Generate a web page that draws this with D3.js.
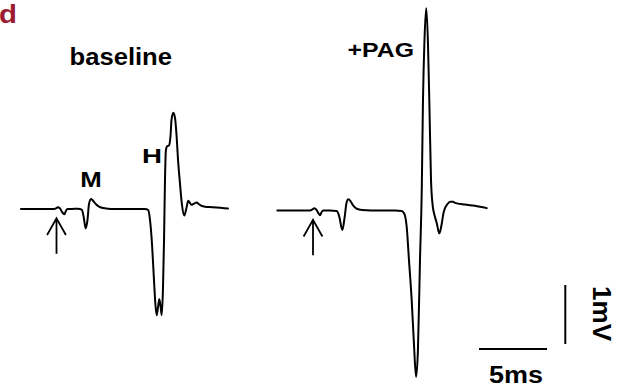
<!DOCTYPE html>
<html>
<head>
<meta charset="utf-8">
<script src="https://cdn.jsdelivr.net/npm/d3@7"></script>
<style>
  html, body { margin: 0; padding: 0; background: #fff; }
  svg { display: block; }
</style>
</head>
<body>
<svg id="fig" width="626" height="387"></svg>
<script>
// EMG recordings: time (ms from stimulus) and amplitude (mV from rest)
const baselineTime = [-2.65, -0.74, -0.22, -0.07, 0.05, 0.22, 0.37, 0.54, 0.66, 0.77, 1.10, 1.54, 1.82, 1.95, 2.11, 2.24, 2.35, 2.50, 2.65, 2.87, 3.09, 3.31, 3.60, 4.26, 6.10, 6.47, 6.71, 6.84, 6.99, 7.13, 7.24, 7.33, 7.43, 7.52, 7.61, 7.70, 7.79, 7.87, 7.94, 8.01, 8.09, 8.24, 8.35, 8.42, 8.55, 8.68, 8.79, 8.90, 9.04, 9.19, 9.36, 9.52, 9.65, 9.78, 9.90, 10.07, 10.27, 10.44, 10.66, 10.88, 11.40, 11.99, 12.57];
const baselineVolt = [0, 0, 0, 0.01, 0.03, 0.01, -0.05, -0.09, -0.03, 0, 0, 0.005, -0.01, -0.12, -0.33, -0.19, 0.08, 0.17, 0.14, 0.08, 0.04, 0.02, 0.01, 0, 0, 0, -0.02, -0.19, -0.61, -1.20, -1.63, -1.80, -1.66, -1.53, -1.64, -1.80, -1.37, -0.53, 0.49, 1.00, 1.06, 1.08, 1.25, 1.51, 1.63, 1.54, 1.25, 0.83, 0.44, 0.07, -0.11, 0.02, 0.14, 0.10, 0.07, 0.09, 0.11, 0.08, 0.05, 0.04, 0.03, 0.02, 0.01];

const pagTime = [-2.66, -0.99, -0.26, -0.07, 0.06, 0.22, 0.37, 0.48, 0.59, 0.72, 1.21, 1.71, 1.88, 2.12, 2.28, 2.43, 2.56, 2.72, 2.90, 3.18, 3.57, 4.89, 5.99, 6.49, 6.60, 6.73, 6.85, 7.02, 7.22, 7.39, 7.54, 7.68, 7.83, 7.96, 8.05, 8.16, 8.29, 8.42, 8.53, 8.64, 8.76, 8.90, 9.06, 9.25, 9.41, 9.56, 9.67, 9.85, 10.04, 10.26, 10.40, 11.14, 11.87, 12.74];
const pagVolt = [0, 0, 0, 0.02, 0.04, 0.01, -0.05, -0.08, -0.03, 0, 0, -0.01, -0.09, -0.33, -0.13, 0.13, 0.19, 0.16, 0.09, 0.03, 0.01, 0, 0, -0.01, -0.03, -0.09, -0.27, -0.84, -1.52, -2.28, -2.82, -2.36, -0.84, 0.35, 1.87, 2.89, 3.43, 2.81, 1.70, 0.52, 0.09, -0.08, -0.21, -0.39, -0.25, -0.04, 0.04, 0.11, 0.15, 0.15, 0.13, 0.10, 0.08, 0.04];

const traceTitles = ["baseline", "+PAG"];
const waveLabels = ["M", "H"];
const scaleBarTime = 5;   // ms
const scaleBarVolt = 1;   // mV
const scaleBarLabels = ["5ms", "1mV"];
const panelLetter = "d";

const svg = d3.select("#fig");
const FONT = "'Liberation Sans', Arial, Helvetica, sans-serif";

// Both traces share the same ms/mV calibration; only the origin differs.
function makeScales(stimX, restY) {
  return {
    x: d3.scaleLinear().domain([0, scaleBarTime]).range([stimX, stimX + 68]),
    y: d3.scaleLinear().domain([0, scaleBarVolt]).range([restY, restY - 59])
  };
}
const sBase = makeScales(57, 209);
const sPag = makeScales(313.5, 210.5);

function drawTrace(times, volts, sc) {
  const pts = times.map((t, i) => [t, volts[i]]);
  const gen = d3.line()
    .x(d => sc.x(d[0]))
    .y(d => sc.y(d[1]))
    .curve(d3.curveMonotoneX);
  svg.append("path")
    .attr("d", gen(pts))
    .attr("fill", "none")
    .attr("stroke", "#000")
    .attr("stroke-width", 2)
    .attr("stroke-linejoin", "round")
    .attr("stroke-linecap", "round");
}

// Stimulus arrow under the trace at t = 0
function drawArrow(sc) {
  const x0 = sc.x(0) - 0.5;
  const tip = sc.y(0) + 9.3;
  const tail = tip + 35.5;
  const wingY = tip + 16.7;
  svg.append("path")
    .attr("d", `M${x0},${tail}L${x0},${tip}M${x0 - 9.4},${wingY}L${x0},${tip}L${x0 + 9.4},${wingY}`)
    .attr("fill", "none")
    .attr("stroke", "#000")
    .attr("stroke-width", 1.8);
}

drawTrace(baselineTime, baselineVolt, sBase);
drawTrace(pagTime, pagVolt, sPag);
drawArrow(sBase);
drawArrow(sPag);

function label(text, x, y, size, len, opts = {}) {
  const t = svg.append("text")
    .attr("x", x)
    .attr("y", y)
    .attr("font-family", FONT)
    .attr("font-weight", "bold")
    .attr("font-size", size)
    .attr("fill", opts.fill || "#000")
    .attr("textLength", len)
    .attr("lengthAdjust", "spacingAndGlyphs")
    .text(text);
  if (opts.transform) t.attr("transform", opts.transform);
  return t;
}

// Panel letter and trace titles
label(panelLetter, -1, 23.3, 26, 18, { fill: "#9b1b31" });
label(traceTitles[0], 69.5, 64.7, 23, 102.5);
label(traceTitles[1], 347.5, 56.7, 19.5, 66.5);

// Wave labels
label(waveLabels[0], 80.3, 186.7, 22.5, 21.5);
label(waveLabels[1], 142, 163.3, 21, 20);

// Calibration bars
const barX0 = 479;
const barY = 349;
const barLen = sBase.x(scaleBarTime) - sBase.x(0);
const vBarX = 565.3;
const vBarBottom = 344;
const vBarLen = sBase.y(0) - sBase.y(scaleBarVolt);

svg.append("line")
  .attr("x1", barX0).attr("x2", barX0 + barLen)
  .attr("y1", barY).attr("y2", barY)
  .attr("stroke", "#000").attr("stroke-width", 2);
svg.append("line")
  .attr("x1", vBarX).attr("x2", vBarX)
  .attr("y1", vBarBottom).attr("y2", vBarBottom - vBarLen)
  .attr("stroke", "#000").attr("stroke-width", 2);

label(scaleBarLabels[0], 489, 383.3, 23, 54);
label(scaleBarLabels[1], 0, 0, 25, 55, { transform: "translate(593,286) rotate(90)" });
</script>
</body>
</html>
